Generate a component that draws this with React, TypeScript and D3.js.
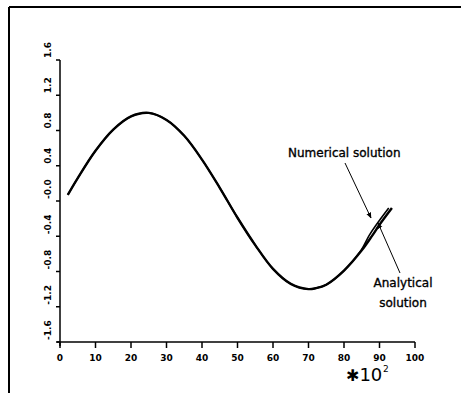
import React from "react";
import * as d3 from "d3";

const xTicks = [0, 10, 20, 30, 40, 50, 60, 70, 80, 90, 100];
const yTicks = [-1.6, -1.2, -0.8, -0.4, 0.0, 0.4, 0.8, 1.2, 1.6];
const yTickLabels = ["-1.6", "-1.2", "-0.8", "-0.4", "-0.0", "0.4", "0.8", "1.2", "1.6"];

const analyticalX = [2.2, 5, 10, 15, 20, 25, 30, 35, 40, 45, 50, 55, 60, 65, 70, 72, 75, 80, 85, 88, 90, 93.5];
const analyticalY = [0.07, 0.26, 0.57, 0.81, 0.96, 1.0, 0.92, 0.74, 0.47, 0.15, -0.19, -0.5, -0.77, -0.94, -1.0, -0.99, -0.95, -0.79, -0.56, -0.39, -0.27, -0.08];

const numericalX = [2.2, 5, 10, 15, 20, 25, 30, 35, 40, 45, 50, 55, 60, 65, 70, 72, 75, 80, 84.8, 87.1, 89.1, 92.6];
const numericalY = [0.07, 0.26, 0.57, 0.81, 0.96, 1.0, 0.92, 0.74, 0.47, 0.15, -0.19, -0.5, -0.77, -0.94, -1.0, -0.99, -0.95, -0.79, -0.56, -0.39, -0.27, -0.08];

const W = 461;
const H = 393;

export default function App() {
  const x = d3.scaleLinear().domain([0, 100]).range([60, 415]);
  const y = d3.scaleLinear().domain([-1.6, 1.6]).range([342, 60]);
  const line = d3
    .line<[number, number]>()
    .x((d) => x(d[0]))
    .y((d) => y(d[1]))
    .curve(d3.curveCatmullRom.alpha(0.5));
  const ana = analyticalX.map((v, i) => [v, analyticalY[i]] as [number, number]);
  const num = numericalX.map((v, i) => [v, numericalY[i]] as [number, number]);
  const font = "'DejaVu Sans', sans-serif";

  return (
    <svg
      width={W}
      height={H}
      style={{ position: "absolute", left: 0, top: 0, background: "#fff" }}
    >
      <defs>
        <marker id="arr" viewBox="0 0 10 10" refX="9" refY="5" markerWidth="6" markerHeight="6" orient="auto">
          <path d="M0,1 L10,5 L0,9 z" fill="#000" />
        </marker>
      </defs>
      {/* frame */}
      <line x1={9} y1={7} x2={W} y2={7} stroke="#000" strokeWidth={2} />
      <line x1={9} y1={7} x2={9} y2={H} stroke="#000" strokeWidth={2} />

      {/* axes */}
      <line x1={x(0)} y1={y(1.6)} x2={x(0)} y2={y(-1.6) + 4} stroke="#000" strokeWidth={1.5} />
      <line x1={x(0) - 3} y1={y(-1.6)} x2={x(100)} y2={y(-1.6)} stroke="#000" strokeWidth={1.5} />
      {yTicks.map((t, i) => (
        <g key={"y" + i}>
          <line x1={x(0) - 4} x2={x(0)} y1={y(t)} y2={y(t)} stroke="#000" strokeWidth={1.5} />
          <text
            transform={`translate(51,${y(t) - 2}) rotate(-90)`}
            fontFamily={font}
            fontWeight="bold"
            fontSize={9}
            textAnchor="start"
          >
            {yTickLabels[i]}
          </text>
        </g>
      ))}
      {xTicks.map((t, i) => (
        <g key={"x" + i}>
          <line x1={x(t)} x2={x(t)} y1={y(-1.6)} y2={y(-1.6) + 6} stroke="#000" strokeWidth={1.5} />
          <text x={x(t)} y={361} fontFamily={font} fontWeight="bold" fontSize={9} textAnchor="middle">
            {t}
          </text>
        </g>
      ))}
      <text x={346} y={381} fontFamily={font} fontSize={18}>
        <tspan fontWeight="bold" fontSize={16}>✱</tspan>10
      </text>
      <text x={383} y={372} fontFamily={font} fontSize={9}>
        2
      </text>

      {/* curves */}
      <path d={line(ana) || ""} fill="none" stroke="#000" strokeWidth={2.4} />
      <path d={line(num) || ""} fill="none" stroke="#000" strokeWidth={1.6} />

      {/* annotations */}
      <g fontFamily={font} fontSize={12} stroke="#000" strokeWidth={0.35}>
        <text x={288} y={157}>Numerical solution</text>
        <text x={403} y={287} textAnchor="middle">Analytical</text>
        <text x={403} y={307} textAnchor="middle">solution</text>
      </g>
      <line x1={345} y1={163} x2={371} y2={218} stroke="#000" strokeWidth={1} markerEnd="url(#arr)" />
      <line x1={400} y1={273} x2={378} y2={223} stroke="#000" strokeWidth={1} markerEnd="url(#arr)" />
    </svg>
  );
}
